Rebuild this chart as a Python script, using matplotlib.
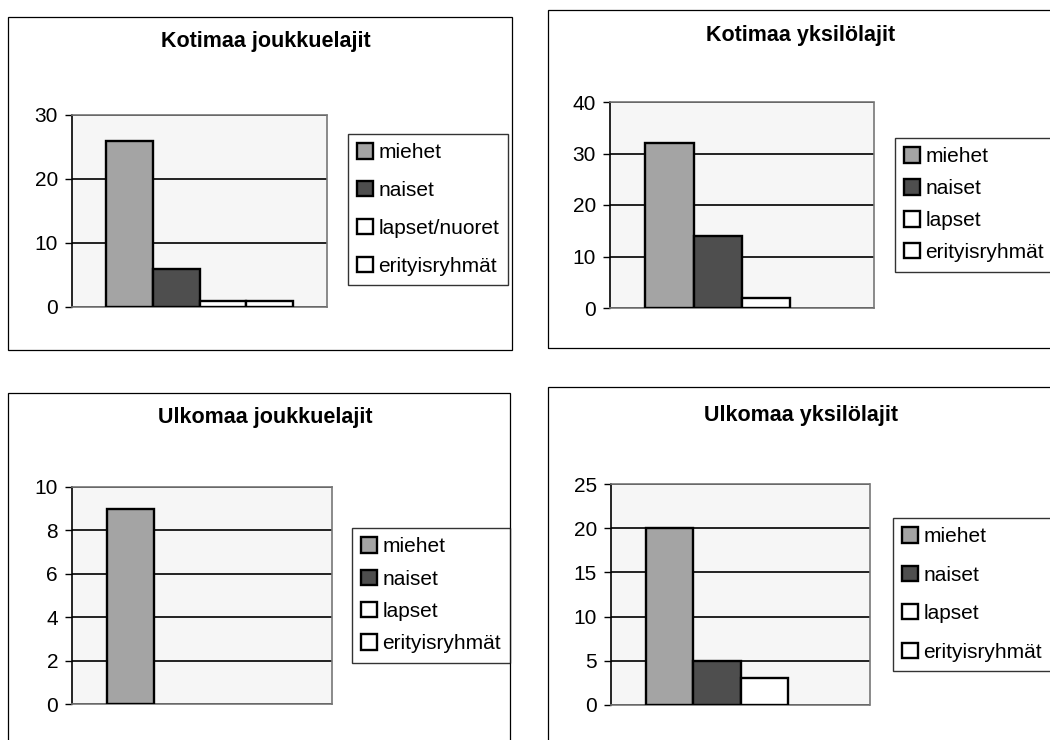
import numpy as np
import matplotlib
matplotlib.use("Agg")
import matplotlib.pyplot as plt
from matplotlib.patches import Rectangle

plt.rcParams['font.family'] = ['Liberation Sans', 'DejaVu Sans']

# data
titles = ["Kotimaa joukkuelajit", "Kotimaa yksilölajit",
          "Ulkomaa joukkuelajit", "Ulkomaa yksilölajit"]
labels_1 = ["miehet", "naiset", "lapset/nuoret", "erityisryhmät"]
labels_2 = ["miehet", "naiset", "lapset", "erityisryhmät"]
values_1 = [26, 6, 1, 1]
values_2 = [32, 14, 2, 0]
values_3 = [9, 0, 0, 0]
values_4 = [20, 5, 3, 0]
ymax = [30, 40, 10, 25]
ystep = [10, 10, 2, 5]

colors = ["#a4a4a4", "#4e4e4e", "#ffffff", "#ffffff"]

W, H = 1050, 740
fig = plt.figure(figsize=(W / 100, H / 100), dpi=100)


def fx(px):
    return px / W


def fy(py):
    return 1 - py / H


# layout in pixels: frame, plot area, legend top-left, title y, labelspacing
panels = [
    dict(frame=(8, 17, 512, 350), plot=(72, 115, 327, 307), leg=(348, 134), ty=42, ls=0.9,
         labels=labels_1, values=values_1),
    dict(frame=(548, 10, 1060, 348), plot=(610, 102, 874, 308), leg=(895, 138), ty=35, ls=0.62,
         labels=labels_2, values=values_2),
    dict(frame=(8, 393, 510, 750), plot=(72, 487, 332, 704), leg=(352, 528), ty=418, ls=0.64,
         labels=labels_2, values=values_3),
    dict(frame=(548, 387, 1060, 750), plot=(611, 484, 870, 705), leg=(893, 518), ty=415, ls=0.93,
         labels=labels_2, values=values_4),
]

for i, p in enumerate(panels):
    x0, y0, x1, y1 = p["frame"]
    fig.patches.append(Rectangle((fx(x0), fy(y1)), fx(x1 - x0), (y1 - y0) / H,
                                 transform=fig.transFigure, fill=False,
                                 edgecolor="black", linewidth=0.9))
    fig.text(fx((x0 + min(x1, 1042)) / 2 + 6), fy(p["ty"]), titles[i], ha="center", va="center",
             fontsize=15.5, fontweight="bold")

    px0, py0, px1, py1 = p["plot"]
    ax = fig.add_axes([fx(px0), fy(py1), fx(px1 - px0), (py1 - py0) / H])
    ax.set_facecolor("#f6f6f6")

    x = np.arange(4)
    vals = p["values"]
    lws = [1.7 if v > 0 else 0 for v in vals]  # Excel draws nothing for zero bars
    bars = ax.bar(x, vals, width=1.0, color=colors, edgecolor="black", linewidth=lws,
                  zorder=3)
    ax.set_xlim(-1.23, 4.23)
    ax.set_ylim(0, ymax[i])
    ax.set_yticks(np.arange(0, ymax[i] + 0.1, ystep[i]))
    ax.set_xticks([])
    ax.yaxis.grid(True, color="#111111", linewidth=1.3, zorder=1)
    ax.tick_params(axis="y", labelsize=15, length=5, width=1, direction="out", pad=5)
    for side in ["top", "right", "bottom"]:
        ax.spines[side].set_color("#777777")
        ax.spines[side].set_linestyle((0, (1, 1)))
        ax.spines[side].set_linewidth(1.2)
    ax.spines["left"].set_color("black")
    ax.spines["left"].set_linewidth(1.2)

    lx, ly = p["leg"]
    leg = fig.legend(bars, p["labels"], loc="upper left",
                     bbox_to_anchor=(fx(lx), fy(ly)), bbox_transform=fig.transFigure,
                     fontsize=15, frameon=True, fancybox=False, borderaxespad=0,
                     handlelength=0.75, handleheight=0.75, handletextpad=0.25,
                     labelspacing=p["ls"], borderpad=0.45)
    leg.get_frame().set_edgecolor("black")
    leg.get_frame().set_linewidth(1.0)
    for h in leg.legend_handles:
        h.set_linewidth(1.7)
        h.set_edgecolor("black")

fig.savefig("out.png", dpi=100)
